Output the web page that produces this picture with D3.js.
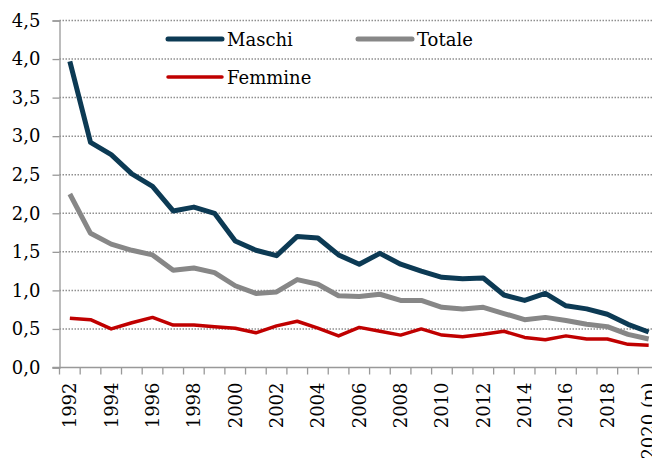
<!DOCTYPE html>
<html>
<head>
<meta charset="utf-8">
<script src="https://cdn.jsdelivr.net/npm/d3@7"></script>
<style>
  body { margin: 0; background: #fff; }
  svg { display: block; }
  svg text { font-family: "DejaVu Serif", serif; font-size: 18px; }
</style>
</head>
<body>
<svg width="652" height="458"></svg>
<script>
// ~~~~~~ DATA ~~~~~~
var years = ["1992","1993","1994","1995","1996","1997","1998","1999","2000","2001",
             "2002","2003","2004","2005","2006","2007","2008","2009","2010","2011",
             "2012","2013","2014","2015","2016","2017","2018","2019","2020"];

var yearLabels = ["1992","","1994","","1996","","1998","","2000","",
                  "2002","","2004","","2006","","2008","","2010","",
                  "2012","","2014","","2016","","2018","","2020 (p)"];

var maschi  = [3.97,2.92,2.76,2.51,2.35,2.03,2.08,2.00,1.64,1.52,
               1.45,1.70,1.68,1.46,1.34,1.48,1.34,1.25,1.17,1.15,
               1.16,0.94,0.87,0.96,0.80,0.76,0.69,0.56,0.46];

var totale  = [2.25,1.74,1.60,1.52,1.46,1.26,1.29,1.23,1.06,0.96,
               0.98,1.14,1.08,0.93,0.92,0.95,0.87,0.87,0.78,0.76,
               0.78,0.70,0.62,0.65,0.61,0.56,0.53,0.43,0.37];

var femmine = [0.64,0.62,0.50,0.58,0.65,0.55,0.55,0.53,0.51,0.45,
               0.54,0.60,0.51,0.41,0.52,0.47,0.42,0.50,0.42,0.40,
               0.43,0.47,0.39,0.36,0.41,0.37,0.37,0.30,0.29];

var yTicks = [0, 0.5, 1, 1.5, 2, 2.5, 3, 3.5, 4, 4.5];

// ~~~~~~ SVG ~~~~~~
var svg = d3.select("svg");
var font = "DejaVu Serif";

var x = d3.scaleBand().domain(years).range([59.5, 659]);
var y = d3.scaleLinear().domain([0, 4.5]).range([367.5, 20.5]);

function cx(d) { return x(d) + x.bandwidth() / 2; }

// gridlines (dotted)
svg.append("g")
   .selectAll("line")
   .data(yTicks.filter(function(d) { return d > 0; }))
   .enter()
   .append("line")
   .attr("x1", 59.5)
   .attr("x2", 652)
   .attr("y1", function(d) { return y(d); })
   .attr("y2", function(d) { return y(d); })
   .attr("stroke", "#8f8f8f")
   .attr("stroke-width", 1.5)
   .attr("stroke-dasharray", "1.5,1.5");

// y axis
var yAxis = svg.append("g")
   .attr("transform", "translate(59.5,0)")
   .call(d3.axisLeft(y).tickValues(yTicks).tickSize(7).tickPadding(12)
          .tickFormat(function(d) { return d3.format(".1f")(d).replace(".", ","); }));
yAxis.attr("font-family", font).attr("font-size", 18);
yAxis.select(".domain").attr("stroke", "#999").attr("stroke-width", 1.3);
yAxis.selectAll(".tick line").attr("stroke", "#999").attr("stroke-width", 1.3);
yAxis.selectAll("text").attr("fill", "#000");

// x axis
var xAxis = svg.append("g").attr("font-family", font).attr("font-size", 18);
xAxis.append("line")
     .attr("x1", 52.5).attr("x2", 652)
     .attr("y1", y(0)).attr("y2", y(0))
     .attr("stroke", "#999").attr("stroke-width", 1.3);

xAxis.selectAll(".xtick")
     .data(years)
     .enter()
     .append("line")
     .attr("class", "xtick")
     .attr("x1", function(d) { return x(d); })
     .attr("x2", function(d) { return x(d); })
     .attr("y1", y(0))
     .attr("y2", y(0) + 7)
     .attr("stroke", "#999")
     .attr("stroke-width", 1.3);

xAxis.selectAll(".xlabel")
     .data(years)
     .enter()
     .append("text")
     .attr("class", "xlabel")
     .attr("transform", function(d) {
       return "translate(" + (cx(d) + 6.5) + "," + (y(0) + 15) + ") rotate(-90)";
     })
     .attr("text-anchor", "end")
     .attr("fill", "#000")
     .text(function(d, i) { return yearLabels[i]; });

// ~~~~~~ LINES ~~~~~~
var series = [
  {name: "Totale",  values: totale,  color: "#878787", width: 5},
  {name: "Femmine", values: femmine, color: "#c00000", width: 3.5},
  {name: "Maschi",  values: maschi,  color: "#0c3a54", width: 5}
];

var line = d3.line()
   .x(function(d, i) { return cx(years[i]); })
   .y(function(d) { return y(d); });

svg.selectAll(".series")
   .data(series)
   .enter()
   .append("path")
   .attr("class", "series")
   .attr("fill", "none")
   .attr("stroke", function(d) { return d.color; })
   .attr("stroke-width", function(d) { return d.width; })
   .attr("stroke-linejoin", "round")
   .attr("d", function(d) { return line(d.values); });

// ~~~~~~ LEGEND ~~~~~~
var legend = [
  {name: "Maschi",  color: "#0c3a54", width: 5,   x: 168, y: 39},
  {name: "Totale",  color: "#878787", width: 5,   x: 358, y: 39},
  {name: "Femmine", color: "#c00000", width: 3.5, x: 168, y: 77}
];

var lg = svg.selectAll(".legend")
   .data(legend)
   .enter()
   .append("g")
   .attr("class", "legend")
   .attr("transform", function(d) { return "translate(" + d.x + "," + d.y + ")"; });

lg.append("line")
  .attr("x1", 0).attr("x2", 54)
  .attr("y1", 0).attr("y2", 0)
  .attr("stroke", function(d) { return d.color; })
  .attr("stroke-width", function(d) { return d.width; })
  .attr("stroke-linecap", "round");

lg.append("text")
  .attr("x", 59)
  .attr("y", 7)
  .attr("fill", "#000")
  .text(function(d) { return d.name; });
</script>
</body>
</html>
